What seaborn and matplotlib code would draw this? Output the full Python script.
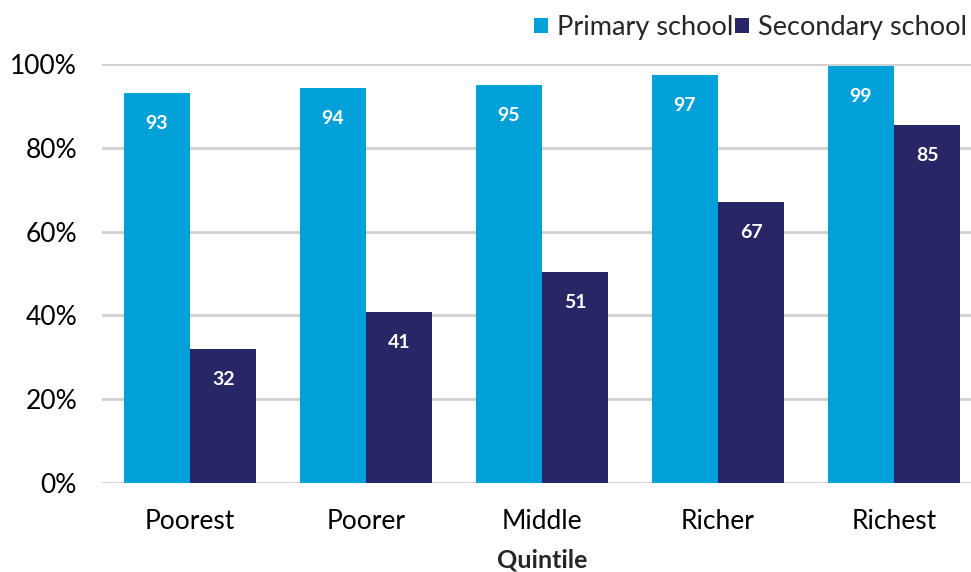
import matplotlib
matplotlib.use("Agg")
import matplotlib.pyplot as plt
import seaborn as sns
import pandas as pd
from matplotlib.ticker import FuncFormatter

quintiles = ["Poorest", "Poorer", "Middle", "Richer", "Richest"]
primary = [93.1, 94.3, 95.0, 97.4, 99.5]
secondary = [32.0, 40.8, 50.4, 67.1, 85.4]
primary_labels = ["93", "94", "95", "97", "99"]
secondary_labels = ["32", "41", "51", "67", "85"]
series = ["Primary school", "Secondary school"]
colors = ["#00A0D8", "#272766"]

df = pd.DataFrame({
    "Quintile": quintiles * 2,
    "School": [series[0]] * 5 + [series[1]] * 5,
    "Value": primary + secondary,
})

sns.set_style("white")
plt.rcParams["font.family"] = ["Lato", "DejaVu Sans"]

fig = plt.figure(figsize=(9.71, 5.72), dpi=100)
ax = fig.add_axes([102 / 971, 89 / 572, 880 / 971, 419 / 572])

sns.barplot(data=df, x="Quintile", y="Value", hue="School", order=quintiles,
            hue_order=series, palette=colors, width=0.755, gap=0,
            saturation=1, ax=ax, legend=True, zorder=3, linewidth=0,
            edgecolor="none")

ax.set_ylim(0, 100)
ax.set_xlim(-0.5, 4.5)
ax.set_yticks([0, 20, 40, 60, 80, 100])
ax.yaxis.set_major_formatter(FuncFormatter(lambda v, p: f"{int(v)}%"))
ax.grid(axis="y", color="#D0D0D0", linewidth=2, zorder=0)
ax.set_axisbelow(True)
for s in ax.spines.values():
    s.set_visible(False)
ax.tick_params(axis="both", length=0, labelsize=19, colors="#000000")
ax.tick_params(axis="y", pad=18)
ax.tick_params(axis="x", pad=19)
ax.set_xlabel("Quintile", fontsize=18, fontweight="bold", labelpad=10)
ax.set_ylabel("")

labels_all = [primary_labels, secondary_labels]
for cont, labs in zip(ax.containers, labels_all):
    for bar, lab in zip(cont, labs):
        ax.annotate(lab, (bar.get_x() + bar.get_width() / 2, bar.get_height()),
                    xytext=(0, -22), textcoords="offset points",
                    ha="center", va="center", color="white",
                    fontsize=14, fontweight="bold", zorder=5)

leg = ax.legend(loc="upper right", bbox_to_anchor=(982 / 971, 1.0),
                bbox_transform=fig.transFigure, ncol=2, frameon=False,
                fontsize=19.5, handlelength=0.5, handleheight=0.5,
                handletextpad=0.35, columnspacing=0.05, borderaxespad=0.15)

fig.savefig("out.png", dpi=100)
